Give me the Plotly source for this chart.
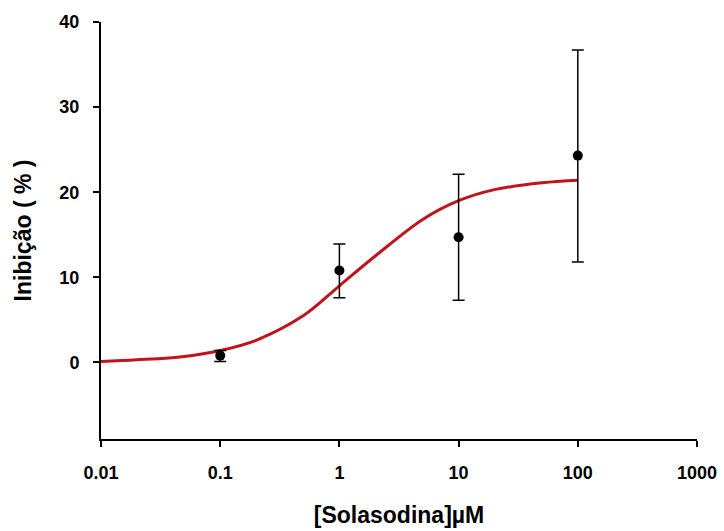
import plotly.graph_objects as go

# Data points (mean ± error)
conc = [0.1, 1, 10, 100]
inhib = [0.8, 10.8, 14.7, 24.3]
err_plus = [0.6, 3.1, 7.4, 12.4]
err_minus = [0.7, 3.2, 7.4, 12.5]

# Fitted curve
curve_x = [0.01, 0.02, 0.05, 0.1, 0.2, 0.5, 1, 2, 5, 10, 20, 50, 100]
curve_y = [0.1, 0.3, 0.7, 1.4, 2.6, 5.5, 9.0, 12.5, 16.8, 19.0, 20.3, 21.1, 21.4]

x_ticks = [0.01, 0.1, 1, 10, 100, 1000]
x_tick_labels = ["0.01", "0.1", "1", "10", "100", "1000"]
y_ticks = [0, 10, 20, 30, 40]

font_family = "Arial, 'Liberation Sans', sans-serif"

fig = go.Figure()
fig.add_trace(go.Scatter(
    x=curve_x, y=curve_y, mode="lines",
    line=dict(color="#c0141c", width=3, shape="spline"),
    hoverinfo="skip", showlegend=False,
))
fig.add_trace(go.Scatter(
    x=conc, y=inhib, mode="markers",
    marker=dict(color="black", size=10),
    error_y=dict(type="data", symmetric=False, array=err_plus, arrayminus=err_minus,
                 color="black", thickness=1.5, width=6),
    showlegend=False,
))

fig.update_layout(
    width=724, height=531,
    margin=dict(l=101, r=27, t=22, b=92),
    paper_bgcolor="white", plot_bgcolor="white",
    font=dict(family=font_family, color="black"),
)
fig.update_xaxes(
    type="log", range=[-2, 3], automargin=False,
    tickvals=x_ticks, ticktext=x_tick_labels,
    showline=True, linecolor="black", linewidth=2,
    ticks="outside", ticklen=6, tickwidth=2, tickcolor="black",
    ticklabelstandoff=10,
    showgrid=False, zeroline=False,
    tickfont=dict(family=font_family, size=18, color="black", weight="bold"),
    title=dict(text="[Solasodina]µM", standoff=25,
               font=dict(family=font_family, size=23, color="black", weight="bold")),
)
fig.update_yaxes(
    range=[-9, 40], automargin=False,
    tickvals=y_ticks,
    showline=True, linecolor="black", linewidth=2,
    ticks="outside", ticklen=6, tickwidth=2, tickcolor="black",
    ticklabelstandoff=10,
    showgrid=False, zeroline=False,
    tickfont=dict(family=font_family, size=18, color="black", weight="bold"),
    title=dict(text="Inibição ( % )", standoff=21,
               font=dict(family=font_family, size=23, color="black", weight="bold")),
)

fig.write_html("out.html")
